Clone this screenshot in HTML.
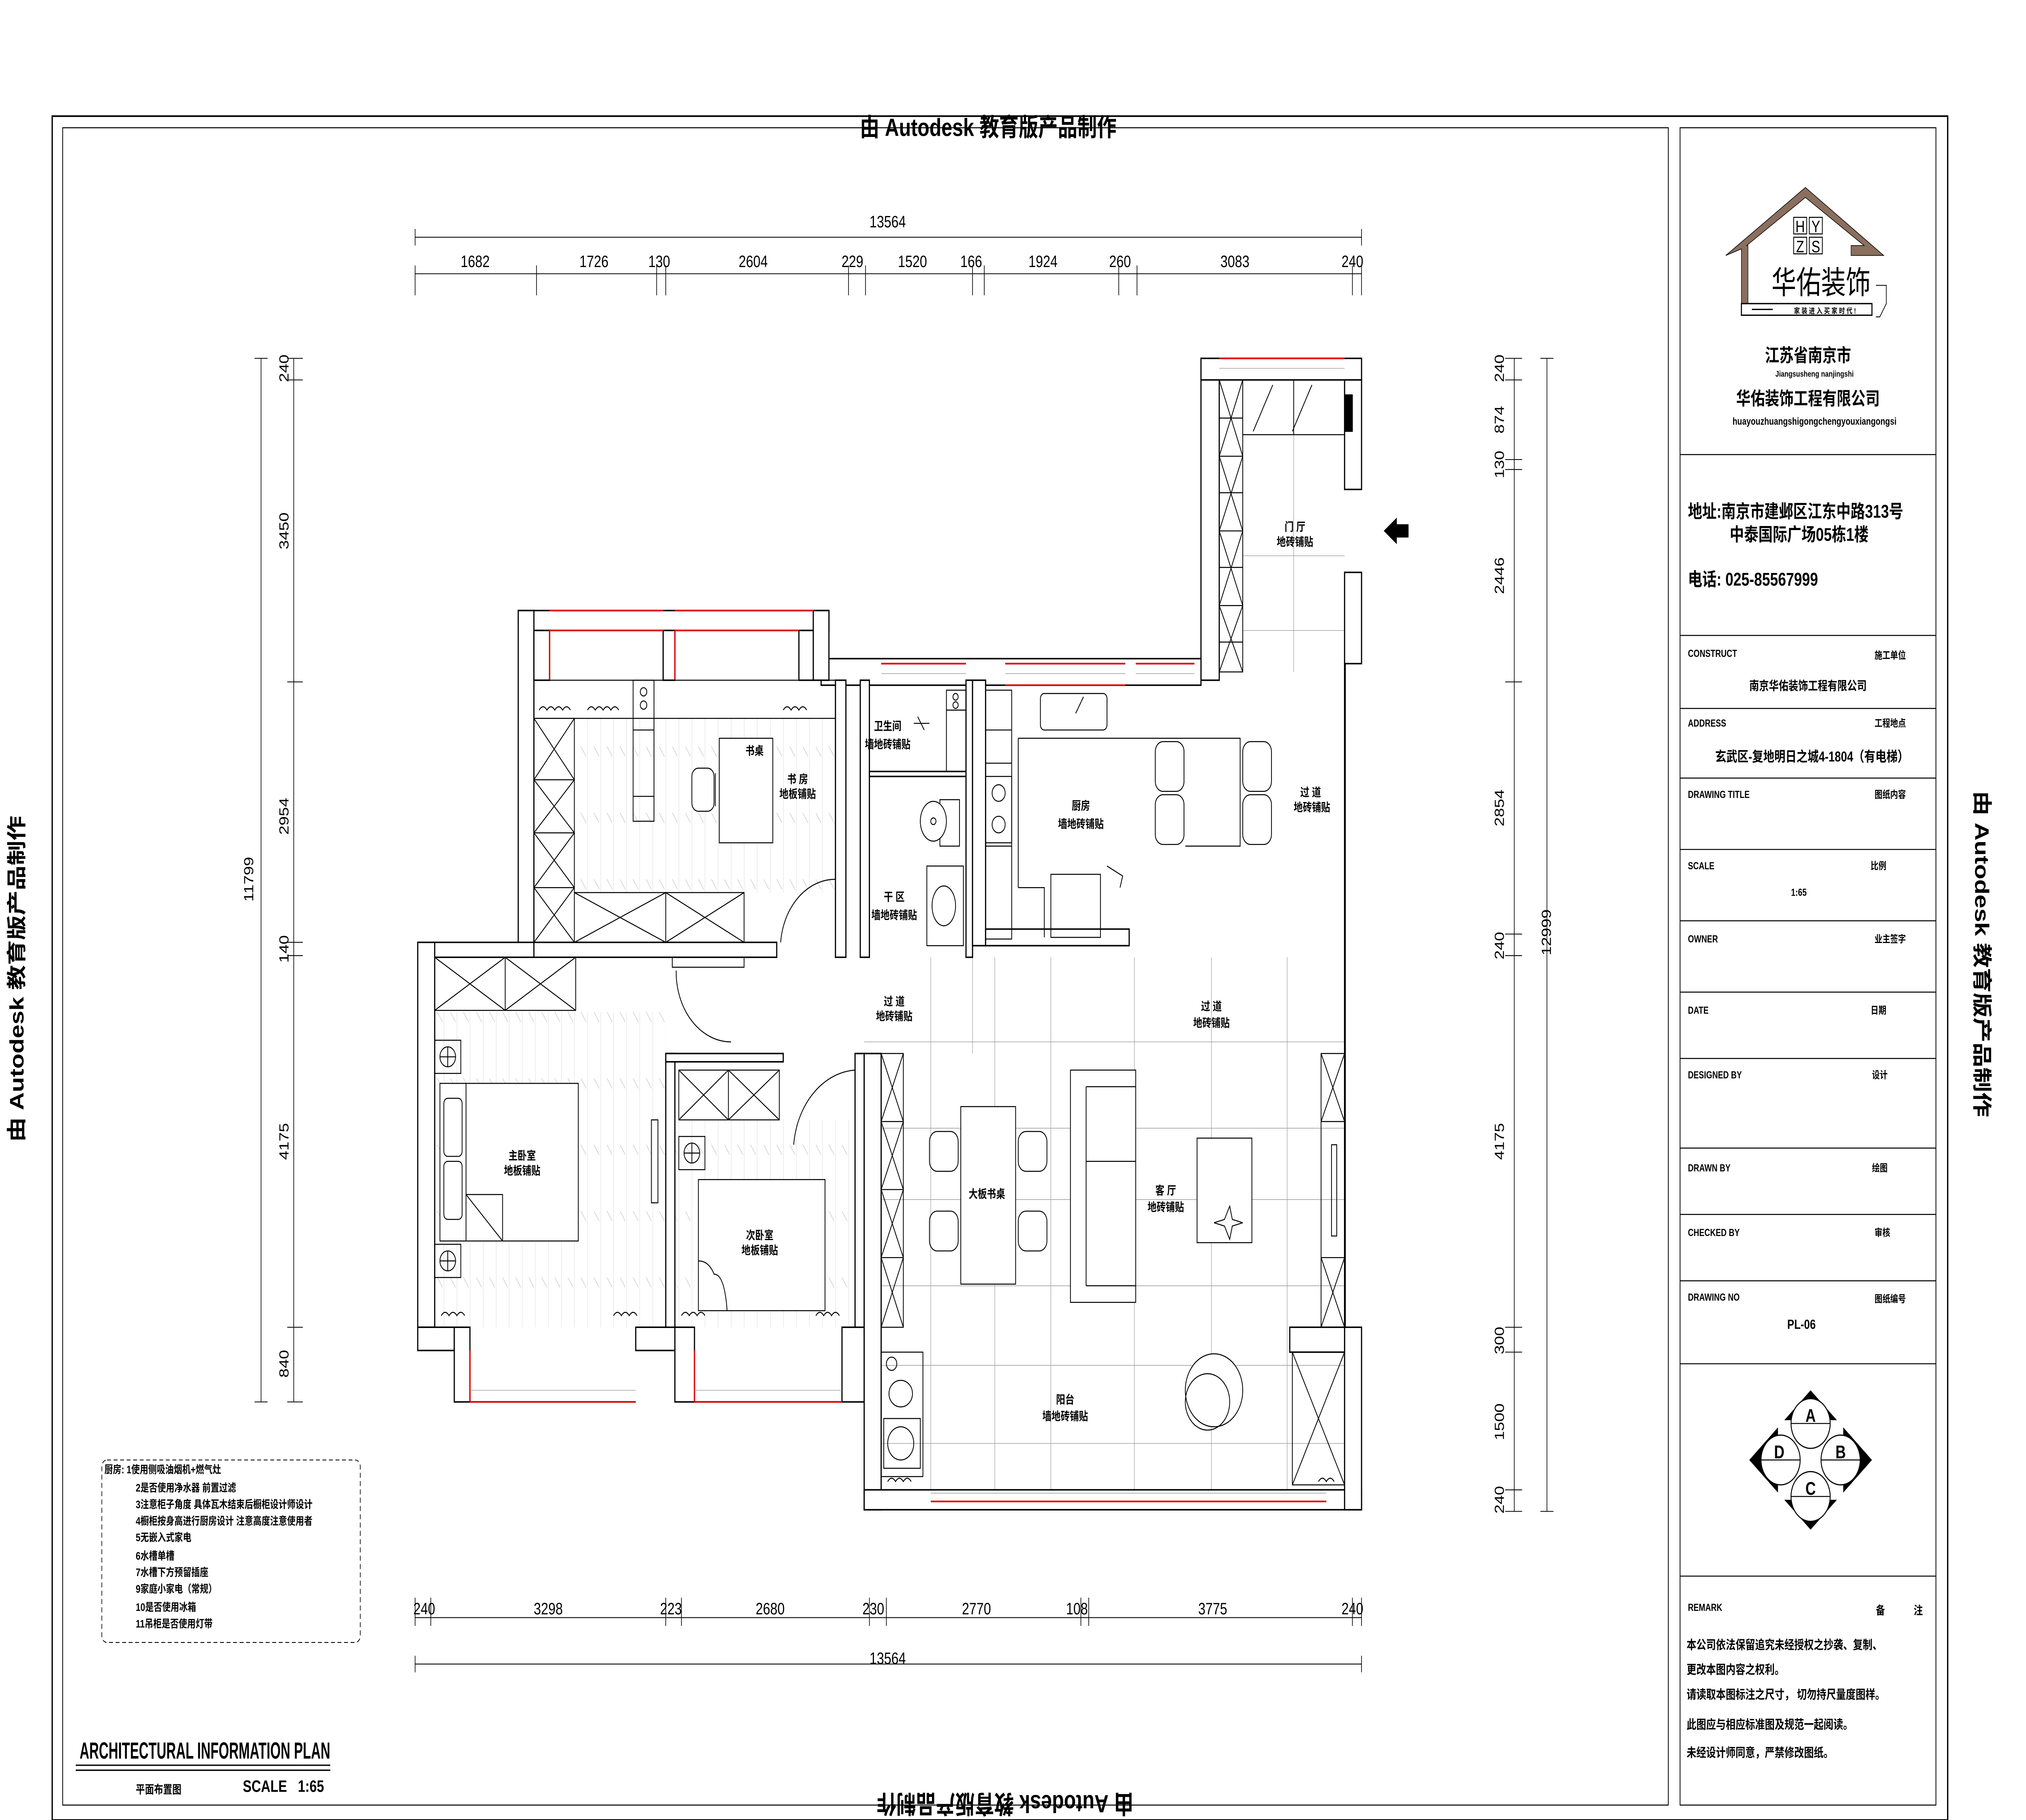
<!DOCTYPE html>
<html><head><meta charset="utf-8"><style>
html,body{margin:0;padding:0;background:#fff;width:100%;height:100%;overflow:hidden;}
svg{display:block;position:fixed;left:0;top:0;width:100vw;height:100vh;}
text{font-family:"Liberation Sans","Noto Sans CJK SC",sans-serif;fill:#000;}
.b{font-weight:bold;}
.w{fill:#fff;stroke:#000;stroke-width:0.9;}
.l{fill:none;stroke:#000;stroke-width:0.6;}
.g{fill:none;stroke:#999;stroke-width:0.35;}
.r{stroke:#e00000;stroke-width:1;fill:none;}
.fl{fill:url(#wood);stroke:none;}
</style></head><body>
<svg viewBox="0 0 1552 1097" preserveAspectRatio="none" xmlns="http://www.w3.org/2000/svg">
<defs>
<pattern id="wood" width="10" height="40" patternUnits="userSpaceOnUse"><line x1="0" y1="0" x2="0" y2="40" stroke="#bbb" stroke-width="0.3"/><line x1="5" y1="10" x2="9" y2="16" stroke="#bbb" stroke-width="0.3"/></pattern>
</defs>
<rect width="1552" height="1097" fill="#fff"/>
<!-- frames -->
<rect x="40" y="70" width="1452" height="1027" fill="none" stroke="#000" stroke-width="1"/>
<rect x="48" y="77" width="1230" height="1011" fill="none" stroke="#000" stroke-width="0.6"/>
<rect x="1287" y="77" width="196" height="1011" fill="none" stroke="#000" stroke-width="0.6"/>
<!-- watermarks -->
<text x="757" y="82" font-size="15" class="b" text-anchor="middle">由 Autodesk 教育版产品制作</text>
<text transform="translate(770,1082) rotate(180)" font-size="15" class="b" text-anchor="middle">由 Autodesk 教育版产品制作</text>
<text transform="translate(18,590) rotate(-90)" font-size="15" class="b" text-anchor="middle">由 Autodesk 教育版产品制作</text>
<text transform="translate(1513,575) rotate(90)" font-size="15" class="b" text-anchor="middle">由 Autodesk 教育版产品制作</text>

<!-- title block lines -->
<g stroke="#000" stroke-width="0.6">
<line x1="1287" y1="274" x2="1483" y2="274"/>
<line x1="1287" y1="383" x2="1483" y2="383"/>
<line x1="1287" y1="427" x2="1483" y2="427"/>
<line x1="1287" y1="469" x2="1483" y2="469"/>
<line x1="1287" y1="512" x2="1483" y2="512"/>
<line x1="1287" y1="555" x2="1483" y2="555"/>
<line x1="1287" y1="598" x2="1483" y2="598"/>
<line x1="1287" y1="638" x2="1483" y2="638"/>
<line x1="1287" y1="692" x2="1483" y2="692"/>
<line x1="1287" y1="732" x2="1483" y2="732"/>
<line x1="1287" y1="772" x2="1483" y2="772"/>
<line x1="1287" y1="822" x2="1483" y2="822"/>
<line x1="1287" y1="950" x2="1483" y2="950"/>
</g>
<!-- logo -->
<path d="M1383,113 L1443,154 L1418,154 L1418,148 L1428,148 L1383,119 L1338,148 L1339,148 L1339,185 L1334,185 L1334,150 L1322,154 Z" fill="#8b6f5e" stroke="#000" stroke-width="0.4"/>
<rect x="1374" y="131" width="10" height="10" fill="#fff" stroke="#000" stroke-width="0.6"/><text x="1379" y="140" font-size="10" text-anchor="middle">H</text>
<rect x="1386" y="131" width="10" height="10" fill="#fff" stroke="#000" stroke-width="0.6"/><text x="1391" y="140" font-size="10" text-anchor="middle">Y</text>
<rect x="1374" y="143" width="10" height="10" fill="#fff" stroke="#000" stroke-width="0.6"/><text x="1379" y="152" font-size="10" text-anchor="middle">Z</text>
<rect x="1386" y="143" width="10" height="10" fill="#fff" stroke="#000" stroke-width="0.6"/><text x="1391" y="152" font-size="10" text-anchor="middle">S</text>
<text x="1395" y="177" font-size="19" text-anchor="middle">华佑装饰</text>
<rect x="1334" y="183" width="100" height="7" fill="#fff" stroke="#000" stroke-width="0.8"/>
<line x1="1342" y1="186.5" x2="1358" y2="186.5" stroke="#000" stroke-width="0.8"/>
<text x="1398" y="189" font-size="4.5" class="b" text-anchor="middle">家 装 进 入 买 家 时 代 !</text>
<path d="M1437,172 L1445,172 L1445,183 L1440,191 L1437,191" fill="none" stroke="#000" stroke-width="0.5"/>
<text x="1385" y="218" font-size="11" class="b" text-anchor="middle">江苏省南京市</text>
<text x="1390" y="227" font-size="5" class="b" text-anchor="middle">Jiangsusheng nanjingshi</text>
<text x="1385" y="244" font-size="11" class="b" text-anchor="middle">华佑装饰工程有限公司</text>
<text x="1390" y="256" font-size="6" class="b" text-anchor="middle">huayouzhuangshigongchengyouxiangongsi</text>
<text x="1293" y="312" font-size="11" class="b">地址:南京市建邺区江东中路313号</text>
<text x="1325" y="326" font-size="11" class="b">中泰国际广场05栋1楼</text>
<text x="1293" y="353" font-size="11" class="b">电话: 025-85567999</text>
<g font-size="6" class="b">
<text x="1293" y="396">CONSTRUCT</text><text x="1436" y="397">施工单位</text>
<text x="1385" y="416" text-anchor="middle" font-size="7.5">南京华佑装饰工程有限公司</text>
<text x="1293" y="438">ADDRESS</text><text x="1436" y="438">工程地点</text>
<text x="1388" y="459" text-anchor="middle" font-size="8.5">玄武区-复地明日之城4-1804（有电梯）</text>
<text x="1293" y="481">DRAWING  TITLE</text><text x="1436" y="481">图纸内容</text>
<text x="1293" y="524">SCALE</text><text x="1433" y="524">比例</text>
<text x="1378" y="540" text-anchor="middle">1:65</text>
<text x="1293" y="568">OWNER</text><text x="1436" y="568">业主签字</text>
<text x="1293" y="611">DATE</text><text x="1433" y="611">日期</text>
<text x="1293" y="650">DESIGNED BY</text><text x="1434" y="650">设计</text>
<text x="1293" y="706">DRAWN BY</text><text x="1434" y="706">绘图</text>
<text x="1293" y="745">CHECKED BY</text><text x="1436" y="745">审核</text>
<text x="1293" y="784">DRAWING NO</text><text x="1436" y="785">图纸编号</text>
<text x="1380" y="801" text-anchor="middle" font-size="8">PL-06</text>
<text x="1293" y="971">REMARK</text><text x="1437" y="973" font-size="7">备</text><text x="1466" y="973" font-size="7">注</text>
</g>
<g font-size="7.5" class="b">
<text x="1292" y="994">本公司依法保留追究未经授权之抄袭、复制、</text>
<text x="1292" y="1009">更改本图内容之权利。</text>
<text x="1292" y="1024">请读取本图标注之尺寸，  切勿持尺量度图样。</text>
<text x="1292" y="1042">此图应与相应标准图及规范一起阅读。</text>
<text x="1292" y="1059">未经设计师同意，严禁修改图纸。</text>
</g>
<!-- compass -->
<path d="M1387,838 L1434,880 L1387,922 L1340,880 Z" fill="#000"/>
<rect x="1362" y="856" width="50" height="48" fill="#fff"/>
<g fill="#fff" stroke="#000" stroke-width="0.7">
<circle cx="1387" cy="858" r="15"/><circle cx="1387" cy="902" r="15"/>
<circle cx="1364" cy="880" r="15"/><circle cx="1410" cy="880" r="15"/>
</g>
<g stroke="#000" stroke-width="0.6"><line x1="1372" y1="858" x2="1402" y2="858"/><line x1="1372" y1="902" x2="1402" y2="902"/><line x1="1349" y1="880" x2="1379" y2="880"/><line x1="1395" y1="880" x2="1425" y2="880"/></g>
<g font-size="11" class="b" text-anchor="middle"><text x="1387" y="857">A</text><text x="1410" y="879">B</text><text x="1387" y="901">C</text><text x="1363" y="879">D</text></g>

<!-- notes -->
<rect x="78" y="880" width="198" height="110" rx="4" fill="none" stroke="#000" stroke-width="0.5" stroke-dasharray="3,2"/>
<g font-size="6.5" class="b">
<text x="80" y="888">厨房: 1使用侧吸油烟机+燃气灶</text>
<text x="104" y="899">2是否使用净水器 前置过滤</text>
<text x="104" y="909">3注意柜子角度 具体瓦木结束后橱柜设计师设计</text>
<text x="104" y="919">4橱柜按身高进行厨房设计 注意高度注意使用者</text>
<text x="104" y="929">5无嵌入式家电</text>
<text x="104" y="940">6水槽单槽</text>
<text x="104" y="950">7水槽下方预留插座</text>
<text x="104" y="960">9家庭小家电（常规）</text>
<text x="104" y="971">10是否使用冰箱</text>
<text x="104" y="981">11吊柜是否使用灯带</text>
</g>
<text x="61" y="1060" font-size="14" class="b" textLength="192" lengthAdjust="spacingAndGlyphs">ARCHITECTURAL INFORMATION PLAN</text>
<line x1="58" y1="1064" x2="253" y2="1064" stroke="#000" stroke-width="0.8"/>
<line x1="58" y1="1067" x2="253" y2="1067" stroke="#000" stroke-width="0.8"/>
<text x="104" y="1081" font-size="7" class="b">平面布置图</text>
<text x="186" y="1080" font-size="10" class="b">SCALE&#160;&#160;&#160;1:65</text>

<!-- dimensions -->
<g stroke="#000" stroke-width="0.5" fill="none">
<line x1="318" y1="143" x2="1043" y2="143"/>
<line x1="318" y1="138" x2="318" y2="148"/><line x1="1043" y1="138" x2="1043" y2="148"/>
<line x1="318" y1="165" x2="1043" y2="165"/>
<path d="M318,160V178 M411,160V178 M503,160V178 M510,160V178 M650,160V178 M663,160V178 M745,160V178 M754,160V178 M857,160V178 M871,160V178 M1036,160V178 M1043,160V178"/>
<line x1="318" y1="975" x2="1043" y2="975"/>
<path d="M318,963V980 M330,963V980 M510,963V980 M522,963V980 M666,963V980 M679,963V980 M828,963V980 M834,963V980 M1036,963V980 M1043,963V980"/>
<line x1="318" y1="1003" x2="1043" y2="1003"/>
<line x1="318" y1="998" x2="318" y2="1008"/><line x1="1043" y1="998" x2="1043" y2="1008"/>
<line x1="225" y1="216" x2="225" y2="845"/>
<path d="M220,216H232 M220,229H232 M220,411H232 M220,568H232 M220,576H232 M220,800H232 M220,845H232"/>
<line x1="200" y1="216" x2="200" y2="845"/><path d="M195,216H205 M195,845H205"/>
<line x1="1160" y1="216" x2="1160" y2="911"/>
<path d="M1153,216H1166 M1153,229H1166 M1153,277H1166 M1153,283H1166 M1153,411H1166 M1153,563H1166 M1153,576H1166 M1153,800H1166 M1153,815H1166 M1153,898H1166 M1153,911H1166"/>
<line x1="1185" y1="216" x2="1185" y2="911"/><path d="M1180,216H1190 M1180,911H1190"/>
</g>
<g font-size="10" text-anchor="middle">
<text x="680" y="137">13564</text>
<text x="364" y="161">1682</text><text x="455" y="161">1726</text><text x="505" y="161">130</text><text x="577" y="161">2604</text><text x="653" y="161">229</text><text x="699" y="161">1520</text><text x="744" y="161">166</text><text x="799" y="161">1924</text><text x="858" y="161">260</text><text x="946" y="161">3083</text><text x="1036" y="161">240</text>
<text x="325" y="973">240</text><text x="420" y="973">3298</text><text x="514" y="973">223</text><text x="590" y="973">2680</text><text x="669" y="973">230</text><text x="748" y="973">2770</text><text x="825" y="973">108</text><text x="929" y="973">3775</text><text x="1036" y="973">240</text>
<text x="680" y="1003">13564</text>
<text transform="translate(221,222) rotate(-90)">240</text>
<text transform="translate(221,320) rotate(-90)">3450</text>
<text transform="translate(221,492) rotate(-90)">2954</text>
<text transform="translate(221,572) rotate(-90)">140</text>
<text transform="translate(221,688) rotate(-90)">4175</text>
<text transform="translate(221,822) rotate(-90)">840</text>
<text transform="translate(194,530) rotate(-90)">11799</text>
<text transform="translate(1152,222) rotate(-90)">240</text>
<text transform="translate(1152,253) rotate(-90)">874</text>
<text transform="translate(1152,280) rotate(-90)">130</text>
<text transform="translate(1152,347) rotate(-90)">2446</text>
<text transform="translate(1152,487) rotate(-90)">2854</text>
<text transform="translate(1152,570) rotate(-90)">240</text>
<text transform="translate(1152,688) rotate(-90)">4175</text>
<text transform="translate(1152,808) rotate(-90)">300</text>
<text transform="translate(1152,857) rotate(-90)">1500</text>
<text transform="translate(1152,904) rotate(-90)">240</text>
<text transform="translate(1188,562) rotate(-90)">12999</text>
</g>

<!-- floor textures -->
<rect class="fl" x="440" y="433" width="200" height="105"/>
<rect class="fl" x="333" y="610" width="177" height="190"/>
<rect class="fl" x="517" y="675" width="138" height="125"/>
<g class="g">
<path d="M713,577V898 M762,577V898 M805,577V898 M869,577V898 M928,577V898 M986,577V898 M745,577V635"/>
<path d="M662,628H1030 M662,680H1030 M662,723H1030 M662,775H1030 M662,823H1030 M662,870H1030"/>
<path d="M991,262V405 M952,335H1030 M952,380H1030"/>
</g>

<!-- walls -->
<g class="w">
<rect x="920" y="216" width="14" height="194"/>
<rect x="920" y="216" width="123" height="13"/>
<rect x="1030" y="229" width="13" height="66"/>
<rect x="1030" y="345" width="13" height="55"/>
<rect x="1030" y="400" width="0.5" height="400"/>
<rect x="629" y="397" width="291" height="16"/>
<rect x="397" y="368" width="238" height="12"/>
<rect x="623" y="368" width="12" height="42"/>
<rect x="397" y="368" width="12" height="209"/>
<rect x="409" y="380" width="12" height="30"/>
<rect x="508" y="380" width="9" height="30"/>
<rect x="612" y="380" width="11" height="30"/>
<rect x="320" y="568" width="90" height="9"/>
<rect x="320" y="568" width="13" height="232"/>
<rect x="320" y="800" width="28" height="14"/>
<rect x="348" y="800" width="12" height="45"/>
<rect x="487" y="800" width="33" height="14"/>
<rect x="510" y="635" width="7" height="165"/>
<rect x="517" y="800" width="15" height="45"/>
<rect x="645" y="800" width="17" height="45"/>
<rect x="510" y="635" width="90" height="5"/>
<rect x="655" y="635" width="7" height="165"/>
<rect x="662" y="635" width="13" height="275"/>
<rect x="662" y="898" width="381" height="12"/>
<rect x="1030" y="800" width="13" height="110"/>
<rect x="988" y="800" width="42" height="15"/>
<rect x="409" y="568" width="186" height="9"/>
<rect x="640" y="410" width="8" height="167"/>
<rect x="659" y="410" width="7" height="167"/>
<rect x="740" y="410" width="5" height="167"/>
<rect x="666" y="465" width="74" height="3"/>
<rect x="745" y="410" width="10" height="160"/>
<rect x="755" y="560" width="110" height="10"/>
</g>
<g class="r">
<path d="M421,368H508 M421,380H508 M517,368H623 M517,380H612 M421,380V410 M517,380V410"/>
<path d="M675,400H740 M770,400H862 M870,400H915 M770,413H862"/>
<path d="M934,216H1030"/>
<path d="M360,845H487 M360,845V814 M532,845H645 M532,845V814 M713,905H1016"/>
</g>
<g class="g" stroke="#777">
<path d="M360,838H487 M532,838H645 M713,900H1016 M934,222H1030 M675,406H740 M770,406H862 M870,406H915"/>
</g>
<!-- entry cabinets -->
<g class="l">
<rect x="934" y="229" width="18" height="176"/>
<path d="M934,252H952 M934,275H952 M934,297H952 M934,320H952 M934,342H952 M934,365H952 M934,387H952"/>
<path d="M934,229L952,275 M952,229L934,275 M934,275L952,320 M952,275L934,320 M934,320L952,365 M952,320L934,365 M934,365L952,405 M952,365L934,405"/>
<rect x="952" y="229" width="78" height="33"/>
<path d="M960,260L975,232 M990,260L1005,232 M991,229V262"/>
<rect x="1030" y="238" width="6" height="22" fill="#000"/>
</g>
<path d="M1060,320 L1070,312 L1070,316 L1079,316 L1079,324 L1070,324 L1070,328 Z" fill="#000"/>

<!-- study furniture -->
<g class="l">
<rect x="409" y="410" width="231" height="23"/>
<path d="M413,428q3,-4 6,0q3,-4 6,0q3,-4 6,0q3,-4 6,0 M450,428q3,-4 6,0q3,-4 6,0q3,-4 6,0q3,-4 6,0 M600,428q3,-4 6,0q3,-4 6,0q3,-4 6,0"/>
<rect x="409" y="433" width="31" height="135"/>
<path d="M409,470H440 M409,502H440 M409,535H440 M409,433L440,470 M440,433L409,470 M409,470L440,502 M440,470L409,502 M409,502L440,535 M440,502L409,535 M409,535L440,568 M440,535L409,568"/>
<rect x="485" y="410" width="16" height="85"/>
<circle cx="493" cy="417" r="2.5"/><circle cx="493" cy="425" r="2.5"/>
<path d="M485,440H501 M485,480H501"/>
<rect x="440" y="538" width="130" height="30"/>
<path d="M510,538V568 M440,538L510,568 M510,538L440,568 M510,538L570,568 M570,538L510,568"/>
<rect x="551" y="445" width="41" height="63" fill="#fff"/>
<rect x="530" y="463" width="17" height="26" rx="5" fill="#fff"/>
<path d="M548,466V486"/>
<path d="M640,530 A42,42 0 0 0 598,568"/>
<line x1="640" y1="525" x2="640" y2="568"/>
<rect x="515" y="577" width="55" height="6"/>
<path d="M518,585 A42,42 0 0 0 560,628"/>
</g>
<!-- bath -->
<g class="l">
<rect x="725" y="416" width="15" height="12"/><circle cx="732" cy="420" r="2"/><circle cx="732" cy="425" r="2"/>
<rect x="725" y="428" width="15" height="37"/>
<path d="M700,436 L712,436 M703,432 L708,440"/>
<rect x="720" y="482" width="15" height="28"/>
<ellipse cx="715" cy="495" rx="10" ry="12" fill="#fff"/>
<circle cx="715" cy="495" r="2"/>
<rect x="710" y="522" width="28" height="48"/>
<ellipse cx="723" cy="546" rx="9" ry="12"/>
<path d="M666,490V530"/>
</g>
<!-- kitchen -->
<g class="l">
<rect x="755" y="416" width="20" height="150"/>
<path d="M755,440H775 M755,460H775 M755,510H775"/>
<rect x="755" y="468" width="20" height="40"/>
<circle cx="765" cy="478" r="5"/><circle cx="765" cy="497" r="5"/>
<rect x="797" y="418" width="51" height="22" rx="3"/>
<path d="M824,430 L830,420"/>
<path d="M780,445 H950 V510 H908 M780,445 V535 M780,535 H800 V565"/>
<rect x="805" y="527" width="38" height="38"/>
<path d="M848,522 L860,528 L858,535"/>
<rect x="885" y="447" width="22" height="30" rx="6"/>
<rect x="885" y="479" width="22" height="30" rx="6"/>
<rect x="952" y="447" width="22" height="30" rx="6"/>
<rect x="952" y="479" width="22" height="30" rx="6"/>
</g>
<!-- master bedroom -->
<g class="l">
<rect x="333" y="577" width="108" height="32"/>
<path d="M333,577L387,609 M387,577L333,609 M387,577L441,609 M441,577L387,609 M387,577V609"/>
<rect x="333" y="627" width="20" height="20"/><circle cx="343" cy="637" r="6"/><path d="M337,637H349 M343,631V643"/>
<rect x="333" y="750" width="20" height="20"/><circle cx="343" cy="760" r="6"/><path d="M337,760H349 M343,754V766"/>
<rect x="337" y="653" width="106" height="95" fill="#fff"/>
<rect x="340" y="662" width="14" height="35" rx="3"/><rect x="340" y="700" width="14" height="35" rx="3"/>
<path d="M357,653V748 M357,720L385,748 M357,720H385V748"/>
<rect x="499" y="675" width="5" height="50"/>
<path d="M338,793q3,-4 6,0q3,-4 6,0q3,-4 6,0 M470,793q3,-4 6,0q3,-4 6,0q3,-4 6,0"/>
</g>
<!-- bedroom 2 -->
<g class="l">
<rect x="520" y="645" width="77" height="30"/>
<path d="M520,645L558,675 M558,645L520,675 M558,645L597,675 M597,645L558,675 M558,645V675"/>
<rect x="520" y="685" width="20" height="20"/><circle cx="530" cy="695" r="6"/><path d="M524,695H536 M530,689V701"/>
<rect x="535" y="711" width="97" height="79" fill="#fff"/>
<path d="M535,760 q8,0 12,8 q8,0 10,22"/>
<path d="M655,645 A50,50 0 0 0 608,690"/>
<line x1="655" y1="645" x2="655" y2="690"/>
<path d="M522,793q3,-4 6,0q3,-4 6,0q3,-4 6,0 M625,793q3,-4 6,0q3,-4 6,0q3,-4 6,0"/>
</g>
<!-- living -->
<g class="l">
<rect x="675" y="635" width="17" height="165"/>
<path d="M675,676H692 M675,717H692 M675,758H692 M675,635L692,676 M692,635L675,676 M675,676L692,717 M692,676L675,717 M675,717L692,758 M692,717L675,758 M675,758L692,800 M692,758L675,800"/>
<rect x="736" y="667" width="42" height="107" fill="#fff"/>
<rect x="712" y="682" width="22" height="24" rx="6"/><rect x="712" y="730" width="22" height="24" rx="6"/>
<rect x="780" y="682" width="22" height="24" rx="6"/><rect x="780" y="730" width="22" height="24" rx="6"/>
<rect x="820" y="645" width="50" height="140" fill="#fff"/>
<path d="M832,655V775 M832,655H870 M832,775H870 M832,700H870"/>
<rect x="917" y="686" width="42" height="63" fill="#fff"/>
<path d="M938,735 l4,-8 l2,8 l8,2 l-8,2 l-2,8 l-4,-8 l-8,-2 Z"/>
<rect x="1012" y="635" width="18" height="165"/>
<path d="M1012,676H1030 M1012,758H1030 M1012,635L1030,676 M1030,635L1012,676 M1012,758L1030,800 M1030,758L1012,800"/>
<rect x="1020" y="690" width="4" height="55"/>
<circle cx="930" cy="838" r="22" fill="#fff"/><circle cx="925" cy="845" r="17"/>
<rect x="990" y="815" width="40" height="80"/>
<path d="M990,815L1030,895 M1030,815L990,895"/>
<rect x="675" y="815" width="32" height="75"/>
<circle cx="683" cy="822" r="4"/><ellipse cx="690" cy="840" rx="9" ry="8"/>
<rect x="677" y="855" width="28" height="30"/><circle cx="690" cy="870" r="10"/>
<path d="M680,893q3,-4 6,0q3,-4 6,0q3,-4 6,0 M1010,893q3,-4 6,0q3,-4 6,0"/>
</g>

<g font-size="7" text-anchor="middle" class="b">
<text x="578" y="455">书桌</text>
<text x="611" y="472">书 房</text><text x="611" y="481">地板铺贴</text>
<text x="680" y="440">卫生间</text><text x="680" y="451">墙地砖铺贴</text>
<text x="828" y="488">厨房</text><text x="828" y="499">墙地砖铺贴</text>
<text x="1004" y="480">过 道</text><text x="1005" y="489">地砖铺贴</text>
<text x="992" y="320">门 厅</text><text x="992" y="329">地砖铺贴</text>
<text x="685" y="543">干 区</text><text x="685" y="554">墙地砖铺贴</text>
<text x="685" y="606">过 道</text><text x="685" y="615">地砖铺贴</text>
<text x="928" y="609">过 道</text><text x="928" y="619">地砖铺贴</text>
<text x="400" y="699">主卧室</text><text x="400" y="708">地板铺贴</text>
<text x="582" y="747">次卧室</text><text x="582" y="756">地板铺贴</text>
<text x="756" y="722">大板书桌</text>
<text x="893" y="720">客 厅</text><text x="893" y="730">地砖铺贴</text>
<text x="816" y="846">阳台</text><text x="816" y="856">墙地砖铺贴</text>
</g>
</svg>
</body></html>
